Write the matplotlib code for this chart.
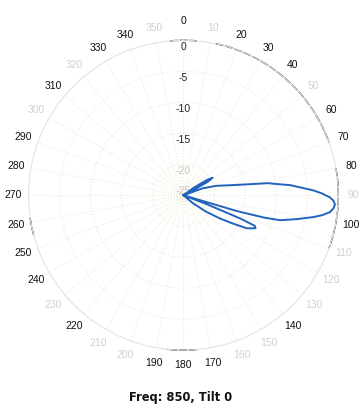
import matplotlib
matplotlib.use("Agg")
import matplotlib.pyplot as plt
import numpy as np

# antenna pattern (azimuth deg, gain dB)
azimuth = [0, 50, 54, 57, 59, 61, 63.5, 66, 68, 70.3, 74, 77.9, 80.6, 81.9, 83.2,
           84.6, 86.1, 87.8, 89.2, 90.8, 92, 93.5, 95, 96.6, 98.2, 99.6, 102, 104.5,
           105.5, 106.5, 107.5, 110, 111, 112.3, 113.2, 114.5, 116, 117.6, 120, 122.6,
           126, 130, 133, 360]
gain_db = [-25, -25, -23, -20.5, -19.5, -20.5, -23.5, -25, -25, -21.7, -19.5, -17.3,
           -14.1, -11.2, -9.8, -7.7, -6.2, -4.1, -2.7, -1.4, -0.8, -0.5, -0.7, -1.2,
           -2.4, -3.8, -6.4, -8.9, -11.5, -16, -25, -25, -21, -15, -12.5, -12.2, -12.8,
           -13.5, -16, -18.1, -20.5, -23, -25, -25]

angle_ticks = list(range(0, 360, 10))
# labels that came out faint in the scan
faint_ticks = [10, 50, 90, 110, 120, 130, 150, 160, 200, 210, 230, 300, 320, 350]
r_ticks = [0, -5, -10, -15, -20, -25]
faint_r = [-20, -25]
# parts of the outer ring that are printed dark
dark_arcs = [(355, 365), (12, 70), (80, 110), (175, 186), (255, 262)]

title = "Freq: 850, Tilt 0"

fig = plt.figure(figsize=(3.62, 4.11), dpi=100)
ax = fig.add_axes([0.0787, 0.148, 0.856, 0.754], projection="polar")
ax.set_theta_zero_location("N")
ax.set_theta_direction(-1)
ax.set_rlim(-25, 0)

ax.plot(np.radians(azimuth), gain_db, color="#2263bd", lw=1.4, zorder=5)

# faint dotted grid
ax.set_thetagrids(angle_ticks, labels=[""] * len(angle_ticks))
ax.set_rgrids(r_ticks, labels=[""] * len(r_ticks))
ax.grid(True, color="#ecebd8", linestyle=":", lw=0.8)
ax.spines["polar"].set_color("#e4e4e4")
ax.spines["polar"].set_linewidth(0.8)

for a0, a1 in dark_arcs:
    th = np.radians(np.linspace(a0, a1, 40))
    ax.plot(th, np.zeros_like(th), color="#222222", lw=1.0, ls=(0, (6, 1)), clip_on=False)

for a in angle_ticks:
    c = "#d0d0d0" if a in faint_ticks else "#111111"
    r_lab = 12.5 if a == 0 else 9.8
    ax.text(np.radians(a), 25 * r_lab / 100, str(a), ha="center", va="center",
            fontsize=7.5, family="Liberation Sans", color=c, clip_on=False)

for r in r_ticks:
    c = "#c8c8b8" if r in faint_r else "#222222"
    ax.text(np.radians(0.0), max(r - 1.1, -24.3), str(r), ha="center", va="center",
            fontsize=7.5, family="Liberation Sans", color=c)

fig.text(0.5, 0.033, title, ha="center", va="center", fontsize=8.3,
         fontweight="bold", family="DejaVu Sans", color="#111111")

fig.savefig("out.png", dpi=100)
